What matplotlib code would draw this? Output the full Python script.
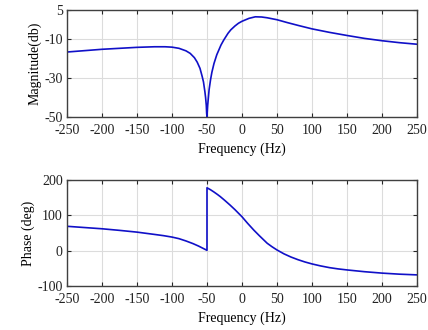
import matplotlib
matplotlib.use("Agg")
import matplotlib.pyplot as plt
import numpy as np

# magnitude response (Hz, dB)
mag_freq = [-250, -225, -200, -175, -150, -125, -110, -100, -90, -80, -74, -68, -64,
            -60, -57, -55, -53, -52, -51, -50.5, -50, -49.5, -49, -48, -47, -45, -43,
            -40, -36, -30, -26, -20, -16, -10, -5, 0, 10, 19, 28, 36, 50, 65, 81,
            100, 125, 150, 175, 200, 225, 250]
mag_db = [-16.6, -15.9, -15.2, -14.7, -14.2, -13.9, -13.9, -14.1, -14.7, -16.0, -17.3,
          -19.5, -21.8, -25.0, -29.0, -32.0, -37.0, -40.0, -44.0, -48.0, -50.0, -47.0,
          -44.0, -40.0, -36.0, -31.0, -27.0, -22.5, -18.0, -13.0, -10.4, -7.0, -5.2,
          -3.2, -1.8, -0.8, 0.7, 1.5, 1.4, 1.0, 0.0, -1.5, -3.0, -4.7, -6.5, -8.1,
          -9.6, -10.8, -11.8, -12.6]

# phase response (Hz, deg), jump of 180 deg at -50 Hz
phase_freq = [-250, -225, -200, -175, -150, -125, -112, -100, -90, -80, -70, -62, -55,
              -50, -50, -45, -40, -35, -31, -25, -17, -10, 0, 8, 17, 25, 36, 43, 50,
              60, 70, 80, 90, 100, 112, 125, 137, 150, 175, 200, 225, 250]
phase_deg = [69, 65.5, 62, 57.5, 52.5, 46, 42.5, 38.5, 34, 27.5, 20, 13, 6,
             1, 178, 172.5, 166, 159, 153, 143, 129, 116, 96, 77.5, 58, 42, 21, 11, 2,
             -9, -18, -25.5, -32, -37.5, -43, -48, -51.5, -54.5, -59.5, -63.5, -66.5,
             -68.5]

freq_ticks = [-250, -200, -150, -100, -50, 0, 50, 100, 150, 200, 250]
mag_ticks = [5, -10, -30, -50]
phase_ticks = [-100, 0, 100, 200]

plt.rcParams["font.family"] = ["Liberation Serif", "DejaVu Serif"]
plt.rcParams["font.size"] = 10
plt.rcParams["axes.unicode_minus"] = False

fig = plt.figure(figsize=(4.28, 3.30), dpi=100)
ax1 = fig.add_axes([0.1565, 0.6455, 0.8178, 0.3242])
ax2 = fig.add_axes([0.1565, 0.1333, 0.8178, 0.3212])

line_color = "#1010c8"
ax1.plot(mag_freq, mag_db, color=line_color, lw=1.2)
ax2.plot(phase_freq, phase_deg, color=line_color, lw=1.2)

ax1.set_ylim(-50, 5)
ax1.set_yticks(mag_ticks)
ax1.set_ylabel("Magnitude(db)", labelpad=2)
ax2.set_ylim(-100, 200)
ax2.set_yticks(phase_ticks)
ax2.set_ylabel("Phase (deg)", labelpad=2)

for ax in (ax1, ax2):
    ax.set_xlim(-250, 250)
    ax.set_xticks(freq_ticks)
    ax.set_xlabel("Frequency (Hz)", labelpad=4)
    ax.grid(True, color="#dcdcdc", lw=0.8)
    ax.set_axisbelow(True)
    ax.tick_params(direction="in", top=True, right=True, length=3, width=0.8,
                   colors="#262626", labelcolor="#222222")
    ax.tick_params(axis="x", pad=5)
    ax.tick_params(axis="y", pad=3)
    for sp in ax.spines.values():
        sp.set_color("#404040")
        sp.set_linewidth(1.0)

fig.savefig("out.png", dpi=100)
